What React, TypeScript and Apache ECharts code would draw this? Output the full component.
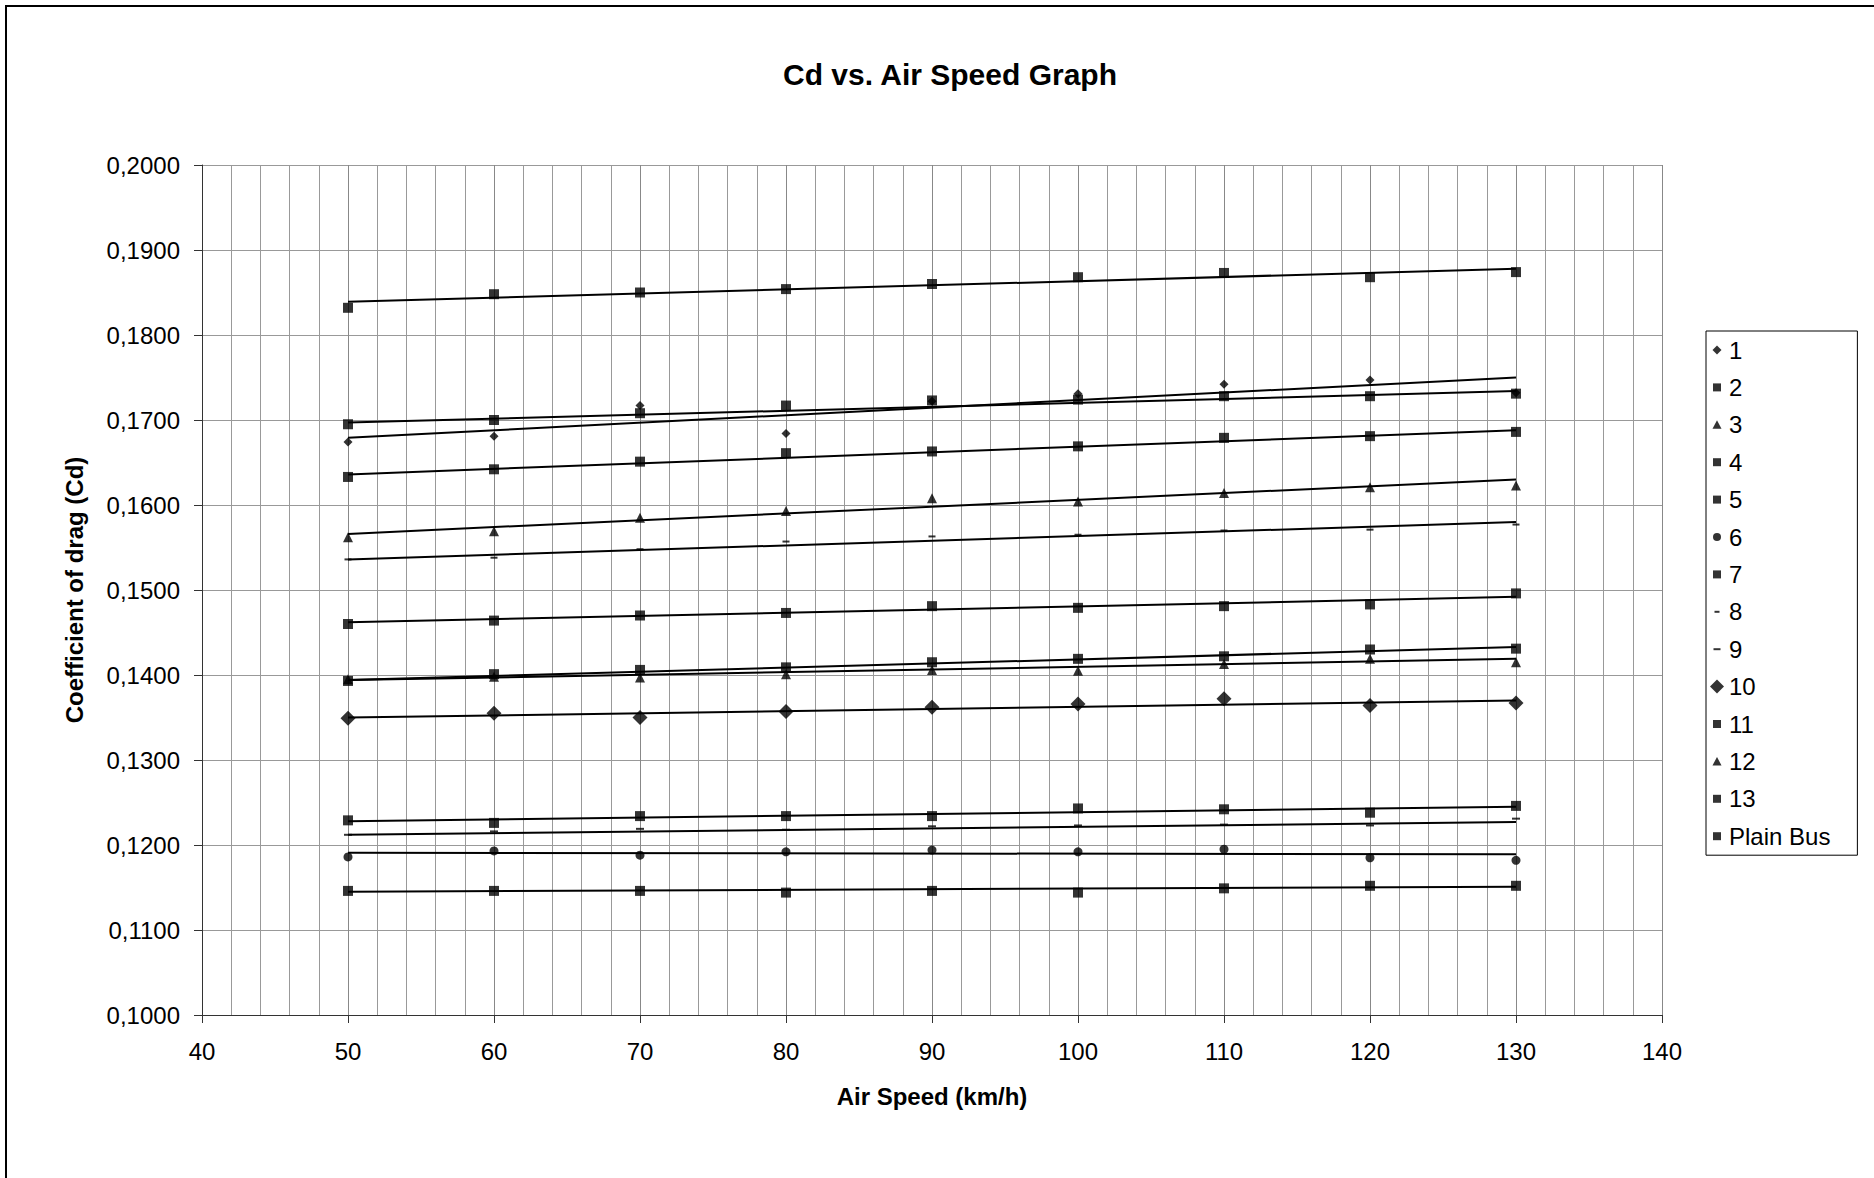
import React, { useEffect, useRef } from "react";
import * as echarts from "echarts";

// Air speed (km/h)
const speeds = [50, 60, 70, 80, 90, 100, 110, 120, 130];

// Cd values
const s1 = [0.1674, 0.1681, 0.1717, 0.1684, 0.1722, 0.1731, 0.1742, 0.1747, 0.1732];
const s2 = [0.1832, 0.1848, 0.185, 0.1854, 0.186, 0.1868, 0.1873, 0.1868, 0.1874];
const s3 = [0.1562, 0.1569, 0.1585, 0.1593, 0.1608, 0.1604, 0.1614, 0.1621, 0.1623];
const s4 = [0.1695, 0.17, 0.1708, 0.1717, 0.1723, 0.1724, 0.1728, 0.1728, 0.1731];
const s5 = [0.1633, 0.1642, 0.1651, 0.1661, 0.1663, 0.1669, 0.1679, 0.1681, 0.1686];
const s6 = [0.1186, 0.1193, 0.1188, 0.1192, 0.1194, 0.1192, 0.1195, 0.1185, 0.1182];
const s7 = [0.146, 0.1464, 0.147, 0.1473, 0.1481, 0.1479, 0.1481, 0.1483, 0.1496];
const s8 = [0.1536, 0.1538, 0.1548, 0.1557, 0.1563, 0.1565, 0.157, 0.1571, 0.1577];
const s9 = [0.1212, 0.1216, 0.1219, 0.1218, 0.1222, 0.1223, 0.1224, 0.1223, 0.1231];
const s10 = [0.1349, 0.1355, 0.135, 0.1357, 0.1362, 0.1366, 0.1372, 0.1364, 0.1367];
const s11 = [0.1393, 0.1401, 0.1406, 0.1409, 0.1415, 0.1419, 0.1422, 0.143, 0.1431];
const s12 = [0.1395, 0.1398, 0.1397, 0.1401, 0.1406, 0.1405, 0.1413, 0.1419, 0.1415];
const s13 = [0.1229, 0.1226, 0.1234, 0.1234, 0.1234, 0.1243, 0.1242, 0.1238, 0.1246];
const plainBus = [0.1146, 0.1146, 0.1146, 0.1144, 0.1146, 0.1144, 0.1149, 0.1152, 0.1152];

// Trend line ends (at 50 and 130 km/h)
const trendX = [50, 130];
const t1 = [0.1679, 0.175];
const t2 = [0.1839, 0.1878];
const t3 = [0.1566, 0.163];
const t4 = [0.1697, 0.1734];
const t5 = [0.1636, 0.1688];
const t6 = [0.1191, 0.1189];
const t7 = [0.1462, 0.1492];
const t8 = [0.1536, 0.158];
const t9 = [0.1212, 0.1227];
const t10 = [0.135, 0.137];
const t11 = [0.1394, 0.1433];
const t12 = [0.1394, 0.1419];
const t13 = [0.1228, 0.1245];
const tPlain = [0.1145, 0.1151];

const seriesNames = ["1", "2", "3", "4", "5", "6", "7", "8", "9", "10", "11", "12", "13", "Plain Bus"];

const DASH = "path://M0,0H8V2H0Z";

// legend icons drawn inside a 14x14 box (the leading moves fix the box)
const BOX = "M0,0M14,14";
const ICON_DIAMOND_S = "path://" + BOX + "M7,2.5L11.5,7L7,11.5L2.5,7Z";
const ICON_DIAMOND_L = "path://" + BOX + "M7,0L14,7L7,14L0,7Z";
const ICON_SQUARE = "path://" + BOX + "M3,3H11V11H3Z";
const ICON_TRIANGLE = "path://" + BOX + "M7,2.5L11.5,11H2.5Z";
const ICON_CIRCLE = "path://" + BOX + "M3,7A4,4,0,1,1,11,7A4,4,0,1,1,3,7Z";
const ICON_DASH_S = "path://" + BOX + "M4.5,6H9.5V8H4.5Z";
const ICON_DASH_L = "path://" + BOX + "M3.5,6H10.5V8H3.5Z";

export default function App() {
  const ref = useRef<HTMLDivElement>(null);

  useEffect(() => {
    if (!ref.current) return;
    const chart = echarts.init(ref.current, undefined, { renderer: "svg" });
    const font = "'Liberation Sans', Arial, sans-serif";

    const pointSets = [s1, s2, s3, s4, s5, s6, s7, s8, s9, s10, s11, s12, s13, plainBus];
    const trendSets = [t1, t2, t3, t4, t5, t6, t7, t8, t9, t10, t11, t12, t13, tPlain];
    const symbols: any[] = [
      ["diamond", 9, ICON_DIAMOND_S],
      ["rect", 10, ICON_SQUARE],
      ["triangle", 10, ICON_TRIANGLE],
      ["rect", 10, ICON_SQUARE],
      ["rect", 10, ICON_SQUARE],
      ["circle", 9, ICON_CIRCLE],
      ["rect", 10, ICON_SQUARE],
      [DASH, [7, 2], ICON_DASH_S],
      [DASH, [8, 2], ICON_DASH_L],
      ["diamond", 15, ICON_DIAMOND_L],
      ["rect", 10, ICON_SQUARE],
      ["triangle", 10, ICON_TRIANGLE],
      ["rect", 10, ICON_SQUARE],
      ["rect", 10, ICON_SQUARE],
    ];

    const trendSeries = trendSets.map((t, i) => ({
      type: "line",
      name: "trend " + seriesNames[i],
      data: trendX.map((x, j) => [x, t[j]]),
      symbol: "none",
      lineStyle: { color: "#000", width: 2 },
      silent: true,
      z: 2,
    }));

    const scatterSeries = pointSets.map((vals, i) => ({
      type: "scatter",
      name: seriesNames[i],
      data: speeds.map((x, j) => [x, vals[j]]),
      symbol: symbols[i][0],
      symbolSize: symbols[i][1],
      itemStyle: { color: "#000" },
      z: 3,
    }));

    chart.setOption({
      animation: false,
      textStyle: { fontFamily: font, color: "#000" },
      title: {
        text: "Cd vs. Air Speed Graph",
        left: 945,
        top: 54,
        textAlign: "center",
        textStyle: { fontFamily: font, fontSize: 30, fontWeight: "bold", color: "#000" },
      },
      graphic: [
        {
          type: "rect",
          shape: { x: 6, y: 6, width: 1920, height: 1220 },
          style: { fill: "none", stroke: "#000", lineWidth: 2 },
          silent: true,
        },
      ],
      legend: {
        orient: "vertical",
        left: 1706,
        top: 331,
        padding: [7, 27, 7, 4],
        itemWidth: 14,
        itemHeight: 14,
        itemGap: 13.4,
        borderColor: "#000",
        borderWidth: 1,
        backgroundColor: "#fff",
        textStyle: {
          fontFamily: font,
          fontSize: 24,
          lineHeight: 24,
          color: "#000",
        },
        data: seriesNames.map((n, i) => ({ name: n, icon: symbols[i][2], itemStyle: { color: "#000" } })),
      },
      grid: { left: 202, top: 165, width: 1460, height: 850, containLabel: false },
      xAxis: {
        type: "value",
        min: 40,
        max: 140,
        interval: 10,
        name: "Air Speed (km/h)",
        nameLocation: "middle",
        nameGap: 69,
        nameTextStyle: { fontFamily: font, fontSize: 24, fontWeight: "bold", color: "#000" },
        axisLine: { show: true, onZero: false, lineStyle: { color: "#333", width: 1 } },
        axisTick: { show: true, inside: false, length: 8, lineStyle: { color: "#333" } },
        axisLabel: { fontSize: 24, color: "#000", margin: 24, fontFamily: font },
        splitLine: { show: true, lineStyle: { color: "#888", width: 1 } },
        minorTick: { show: false, splitNumber: 5 },
        minorSplitLine: { show: true, lineStyle: { color: "#999", width: 1 } },
      },
      yAxis: {
        type: "value",
        min: 0.1,
        max: 0.2,
        interval: 0.01,
        name: "Coefficient of drag (Cd)",
        nameLocation: "middle",
        nameGap: 116,
        nameTextStyle: { fontFamily: font, fontSize: 24, fontWeight: "bold", color: "#000" },
        axisLine: { show: true, onZero: false, lineStyle: { color: "#333", width: 1 } },
        axisTick: { show: true, inside: false, length: 8, lineStyle: { color: "#333" } },
        axisLabel: {
          fontSize: 24,
          color: "#000",
          margin: 22,
          fontFamily: font,
          formatter: (v: number) => v.toFixed(4).replace(".", ","),
        },
        splitLine: { show: true, lineStyle: { color: "#999", width: 1 } },
      },
      series: [...trendSeries, ...scatterSeries],
    });

    return () => chart.dispose();
  }, []);

  return (
    <div
      ref={ref}
      style={{ position: "absolute", left: 0, top: 0, width: 1874, height: 1178, background: "#fff" }}
    />
  );
}
